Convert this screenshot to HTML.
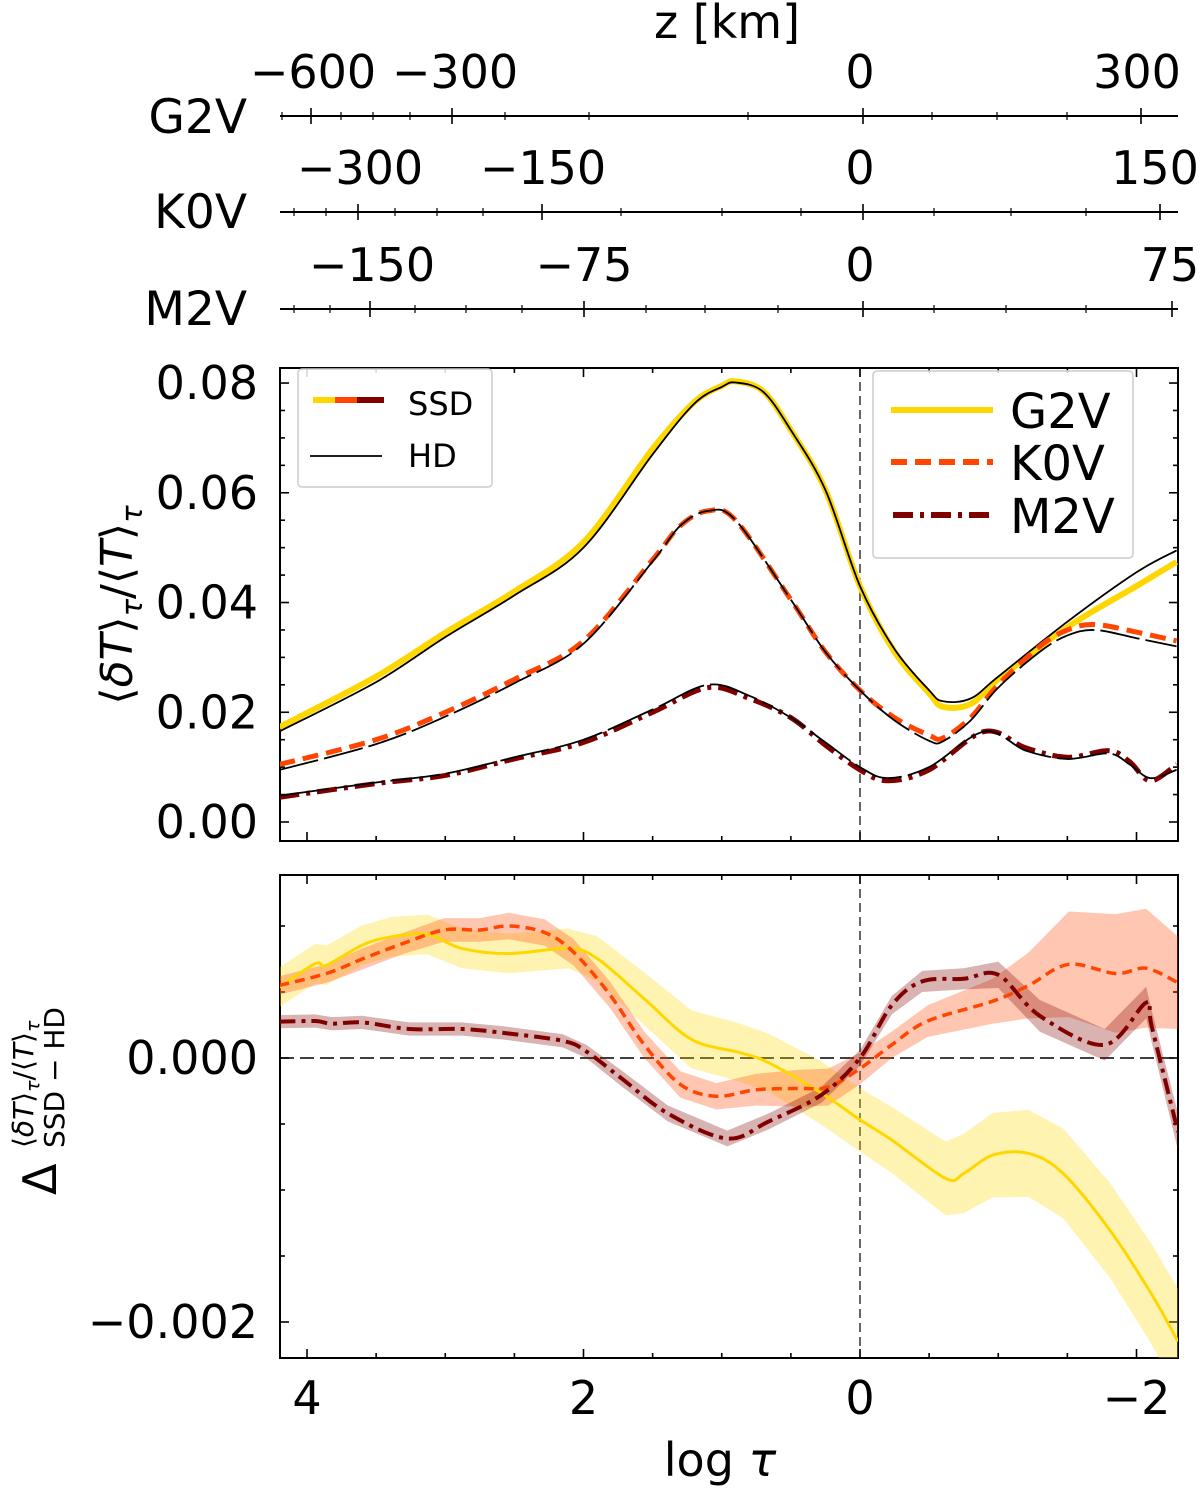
<!DOCTYPE html>
<html><head><meta charset="utf-8"><style>
body{margin:0;background:#fff}
svg text{font-family:"DejaVu Sans","Liberation Sans",sans-serif;fill:#000}
</style></head><body>
<svg id="s" width="1200" height="1487" xmlns="http://www.w3.org/2000/svg"></svg>
<script>
// ---------- data ----------
const g2Top_x=[4.2,3.5,3,2.5,2,1.5,1.2,1,0.9,0.7,0.5,0.25,0,-0.25,-0.5,-0.6,-0.8,-1,-1.5,-2,-2.29];
const g2Top_ssd=[0.0173,0.0265,0.0345,0.042,0.051,0.068,0.0765,0.0795,0.0803,0.0785,0.0714,0.0605,0.043,0.031,0.0235,0.021,0.0215,0.026,0.0355,0.043,0.0474];
const g2Top_hd=[0.0165,0.0255,0.0337,0.0413,0.050,0.067,0.0762,0.0793,0.0801,0.0784,0.0714,0.0605,0.043,0.0315,0.024,0.022,0.0225,0.0265,0.0365,0.0455,0.0495];
const k0Top_x=[4.2,3.5,3,2.5,2,1.5,1.3,1.1,0.9,0.5,0.25,0,-0.25,-0.5,-0.6,-0.8,-1,-1.3,-1.5,-1.7,-2,-2.29];
const k0Top_ssd=[0.0105,0.015,0.020,0.026,0.033,0.0478,0.054,0.0567,0.055,0.0405,0.031,0.024,0.019,0.0158,0.0153,0.019,0.025,0.032,0.035,0.036,0.0346,0.033];
const k0Top_hd=[0.0095,0.0142,0.0192,0.0253,0.0325,0.0475,0.054,0.0567,0.055,0.0405,0.031,0.024,0.0185,0.0148,0.0147,0.0185,0.0245,0.031,0.034,0.035,0.0335,0.032];
const m2Top_x=[4.2,3.5,3,2.5,2,1.5,1.1,0.8,0.5,0.25,0,-0.2,-0.5,-0.9,-1.2,-1.5,-1.8,-1.95,-2.1,-2.29];
const m2Top_ssd=[0.0045,0.007,0.0085,0.0115,0.0145,0.020,0.0245,0.0225,0.019,0.014,0.0095,0.0075,0.0095,0.0165,0.0135,0.0118,0.013,0.011,0.0075,0.0105];
const m2Top_hd=[0.0048,0.0072,0.0088,0.0118,0.015,0.0205,0.025,0.023,0.019,0.0145,0.010,0.008,0.010,0.0165,0.013,0.0115,0.0125,0.0105,0.008,0.0095];

const g2Bot_x=[4.2,3.94,3.86,3.6,3.39,3.13,2.88,2.54,2.11,1.9,1.56,1.22,0.87,0.66,0.28,0,-0.23,-0.62,-0.75,-0.96,-1.22,-1.47,-1.81,-2.11,-2.3];
const g2Bot_v=[0.537,0.715,0.702,0.855,0.918,0.936,0.83,0.791,0.83,0.753,0.448,0.142,0.041,-0.036,-0.265,-0.468,-0.621,-0.913,-0.875,-0.736,-0.723,-0.875,-1.308,-1.791,-2.148];
const g2Bot_e=[0.15,0.15,0.15,0.15,0.15,0.15,0.15,0.15,0.15,0.17,0.2,0.22,0.22,0.22,0.24,0.24,0.25,0.28,0.3,0.32,0.33,0.34,0.36,0.38,0.4];
const k0Bot_x=[4.2,3.86,3.6,3.3,3.01,2.75,2.54,2.28,2.07,1.81,1.56,1.3,1.04,0.75,0.45,0.23,0,-0.23,-0.49,-0.96,-1.22,-1.51,-1.85,-2.07,-2.3];
const k0Bot_v=[0.55,0.64,0.75,0.87,0.97,0.97,1.0,0.95,0.8,0.48,0.1,-0.2,-0.29,-0.24,-0.23,-0.22,-0.08,0.1,0.28,0.43,0.55,0.71,0.64,0.68,0.57];
const k0Bot_e=[0.07,0.07,0.08,0.08,0.09,0.09,0.1,0.1,0.1,0.1,0.1,0.1,0.1,0.12,0.14,0.14,0.12,0.1,0.12,0.17,0.25,0.4,0.45,0.45,0.35];
const m2Bot_x=[4.2,3.94,3.82,3.6,3.26,2.88,2.58,2.15,1.98,1.73,1.39,0.96,0.66,0.28,0,-0.23,-0.45,-0.75,-1.0,-1.3,-1.77,-2.07,-2.11,-2.3];
const m2Bot_v=[0.275,0.28,0.26,0.27,0.22,0.22,0.19,0.13,0.05,-0.15,-0.42,-0.61,-0.48,-0.28,0.0,0.4,0.58,0.6,0.63,0.32,0.1,0.42,0.24,-0.56];
const m2Bot_e=[0.05,0.05,0.05,0.05,0.05,0.05,0.05,0.05,0.05,0.06,0.06,0.06,0.06,0.06,0.06,0.07,0.08,0.08,0.1,0.12,0.12,0.12,0.12,0.14];

const topTicks=[0,0.02,0.04,0.06,0.08];
const topTickLabels=["0.00","0.02","0.04","0.06","0.08"];
const botTicks=[0,-2];
const botTickLabels=["0.000","\u22120.002"];
const xTicks=[4,2,0,-2];
const xTickLabels=["4","2","0","\u22122"];

// ---------- axes ----------
const NS="http://www.w3.org/2000/svg";
const svg=document.getElementById('s');
const XL=280,XR=1178;
const X=t=>860-(t)*138.25;
const YT=v=>822-v*5487;
const YB=v=>1058-v*132;
function el(tag,attrs,parent){const e=document.createElementNS(NS,tag);for(const k in attrs)e.setAttribute(k,attrs[k]);(parent||svg).appendChild(e);return e;}
function txt(x,y,s,size,anchor,name,parent){const t=el('text',{x:x,y:y,'font-size':size,'text-anchor':anchor||'middle'},parent);t.textContent=s;


return t;}
function smooth(xs,ys,fx,fy){const P=xs.map((x,i)=>[fx(x),fy(ys[i])]);let d='M'+P[0][0].toFixed(1)+','+P[0][1].toFixed(1);
 for(let i=0;i<P.length-1;i++){const p0=P[Math.max(i-1,0)],p1=P[i],p2=P[i+1],p3=P[Math.min(i+2,P.length-1)];
  const c1=[p1[0]+(p2[0]-p0[0])/6,p1[1]+(p2[1]-p0[1])/6],c2=[p2[0]-(p3[0]-p1[0])/6,p2[1]-(p3[1]-p1[1])/6];
  d+='C'+c1[0].toFixed(1)+','+c1[1].toFixed(1)+' '+c2[0].toFixed(1)+','+c2[1].toFixed(1)+' '+p2[0].toFixed(1)+','+p2[1].toFixed(1);}
 return d;}

// top z axes
const zAxes=[
 {y:116,name:'G2V',ly:133,major:[311,452,863,1141],minor:[282,341,373,410,505,589,748,932,997,1067],labels:[["\u2212600",313],["\u2212300",455],["0",860],["300",1137]]},
 {y:212,name:'K0V',ly:228,major:[358,542,863,1160],minor:[294,326,395,437,483,621,722,801,934,1011,1086],labels:[["\u2212300",360],["\u2212150",543],["0",860],["150",1155]]},
 {y:309,name:'M2V',ly:325,major:[370,584,863,1172],minor:[294,330,415,466,522,646,705,778,934,1006,1086],labels:[["\u2212150",372],["\u221275",584],["0",860],["75",1170]]}
];
zAxes.forEach(a=>{
 const l=el('line',{x1:XL,x2:XR,y1:a.y,y2:a.y,stroke:'#000','stroke-width':2});
 
 
 a.major.forEach(x=>el('line',{x1:x,x2:x,y1:a.y-8,y2:a.y+8,stroke:'#000','stroke-width':1.6}));
 a.minor.forEach(x=>el('line',{x1:x,x2:x,y1:a.y-4,y2:a.y+4,stroke:'#000','stroke-width':1.2}));
 a.labels.forEach(L=>txt(L[1],a.y-28,L[0],46,'middle','z-tick-label'));
 txt(247,a.ly,a.name,47,'end','star-label-'+a.name.toLowerCase());
});
txt(727,38,'z [km]',46,'middle','z-axis-title');

// panels
function frame(y0,y1,name){const r=el('rect',{x:XL,y:y0,width:XR-XL,height:y1-y0,fill:'none',stroke:'#000','stroke-width':2});


for(let t=4;t>=-2.3;t-=0.5){const x=X(t);const maj=Math.abs(t%2)<1e-6;const L=maj?9:5;
 el('line',{x1:x,x2:x,y1:y0,y2:y0+L,stroke:'#000','stroke-width':1.6});
 el('line',{x1:x,x2:x,y1:y1,y2:y1-L,stroke:'#000','stroke-width':1.6});}
}
const T0=368,T1=841,B0=875,B1=1358;
frame(T0,T1,'top-panel');frame(B0,B1,'bottom-panel');
for(let v=0;v<=0.0825;v+=0.005){const y=YT(v);const maj=Math.round(v*1000)%20===0;const L=maj?9:5;
 el('line',{x1:XL,x2:XL+L,y1:y,y2:y,stroke:'#000','stroke-width':1.6});el('line',{x1:XR,x2:XR-L,y1:y,y2:y,stroke:'#000','stroke-width':1.6});}
topTicks.forEach((v,i)=>txt(258,YT(v)+16,topTickLabels[i],46,'end','top-y-tick-label'));
for(let k=-5;k<=3;k++){const y=YB(k*0.5);if(y<B0||y>B1)continue;const maj=(k%4===0);const L=maj?9:5;
 el('line',{x1:XL,x2:XL+L,y1:y,y2:y,stroke:'#000','stroke-width':1.6});el('line',{x1:XR,x2:XR-L,y1:y,y2:y,stroke:'#000','stroke-width':1.6});}
botTicks.forEach((v,i)=>txt(258,YB(v)+16,botTickLabels[i],46,'end','bottom-y-tick-label'));
xTicks.forEach((t,i)=>txt(X(t),1414,xTickLabels[i],46,'middle','x-tick-label'));
const xt=el('text',{x:720,y:1476,'font-size':46,'text-anchor':'middle'});


xt.innerHTML='log <tspan font-style="italic">\u03c4</tspan>';

// reference lines
el('line',{x1:860,x2:860,y1:T0,y2:T1,stroke:'#000','stroke-width':1.2,'stroke-dasharray':'9,5'});
el('line',{x1:860,x2:860,y1:B0,y2:B1,stroke:'#000','stroke-width':1.2,'stroke-dasharray':'9,5'});
el('line',{x1:XL,x2:XR,y1:YB(0),y2:YB(0),stroke:'#000','stroke-width':1.6,'stroke-dasharray':'14,6'});

const defs=el('defs',{});
const c1=el('clipPath',{id:'ct'},defs);el('rect',{x:XL,y:T0,width:XR-XL,height:T1-T0},c1);
const c2=el('clipPath',{id:'cb'},defs);el('rect',{x:XL,y:B0,width:XR-XL,height:B1-B0},c2);
const gT=el('g',{'clip-path':'url(#ct)'});const gB=el('g',{'clip-path':'url(#cb)'});

const G='#FFD700',K='#FF4500',M='#800000';
const DK='16,8',DM='20,7,4,7';
function line(g,xs,ys,fy,col,w,dash,name){const p=el('path',{d:smooth(xs,ys,X,fy),fill:'none',stroke:col,'stroke-width':w,'stroke-linejoin':'round'},g);
 if(dash)p.setAttribute('stroke-dasharray',dash);
 
 }
line(gT,g2Top_x,g2Top_ssd,YT,G,6,null,'g2v-ssd-line');
line(gT,g2Top_x,g2Top_hd,YT,'#000',1.8,null,'g2v-hd-line');
line(gT,k0Top_x,k0Top_ssd,YT,K,5,DK,'k0v-ssd-line');
line(gT,k0Top_x,k0Top_hd,YT,'#000',1.8,'40,6','k0v-hd-line');
line(gT,m2Top_x,m2Top_ssd,YT,M,5,DM,'m2v-ssd-line');
line(gT,m2Top_x,m2Top_hd,YT,'#000',1.8,'50,6','m2v-hd-line');

function band(g,xs,vs,es,col,name){const up=xs.map((x,i)=>X(x).toFixed(1)+','+YB(vs[i]+es[i]).toFixed(1));
 const dn=xs.map((x,i)=>X(x).toFixed(1)+','+YB(vs[i]-es[i]).toFixed(1)).reverse();
 const p=el('polygon',{points:up.concat(dn).join(' '),fill:col,'fill-opacity':0.3,stroke:'none'},g);
 
 }
band(gB,g2Bot_x,g2Bot_v,g2Bot_e,G,'g2v-band');
band(gB,k0Bot_x,k0Bot_v,k0Bot_e,K,'k0v-band');
band(gB,m2Bot_x,m2Bot_v,m2Bot_e,M,'m2v-band');
line(gB,g2Bot_x,g2Bot_v,YB,G,3,null,'g2v-diff-line');
line(gB,k0Bot_x,k0Bot_v,YB,K,3.5,'10,6','k0v-diff-line');
line(gB,m2Bot_x,m2Bot_v,YB,M,4,'16,6,4,6','m2v-diff-line');

// legends
const lg1=el('rect',{x:298,y:369,width:194,height:118,rx:4,fill:'#fff','fill-opacity':0.85,stroke:'#ccc','stroke-width':1.5});


el('line',{x1:313,x2:335,y1:400,y2:400,stroke:G,'stroke-width':6});
el('line',{x1:335,x2:357,y1:400,y2:400,stroke:K,'stroke-width':6});
el('line',{x1:357,x2:384,y1:400,y2:400,stroke:M,'stroke-width':6});
el('line',{x1:310,x2:382,y1:456,y2:456,stroke:'#000','stroke-width':1.8});
txt(408,415,'SSD',32,'start','legend-entry-ssd');
txt(408,467,'HD',32,'start','legend-entry-hd');
const lg2=el('rect',{x:873,y:371,width:260,height:187,rx:4,fill:'#fff','fill-opacity':0.85,stroke:'#ccc','stroke-width':1.5});


el('line',{x1:891,x2:993,y1:410,y2:410,stroke:G,'stroke-width':6});
el('line',{x1:891,x2:993,y1:462,y2:462,stroke:K,'stroke-width':6,'stroke-dasharray':DK});
el('line',{x1:893,x2:993,y1:515,y2:515,stroke:M,'stroke-width':6,'stroke-dasharray':DM});
txt(1010,428,'G2V',48,'start','legend-entry-g2v');
txt(1010,480,'K0V',48,'start','legend-entry-k0v');
txt(1010,533,'M2V',48,'start','legend-entry-m2v');

// y axis titles
const yt=el('text',{transform:'translate(132,605) rotate(-90)','text-anchor':'middle','font-size':44});


yt.innerHTML='\u27e8<tspan font-style="italic">\u03b4T</tspan>\u27e9<tspan font-size="29" dy="10" font-style="italic">\u03c4</tspan><tspan dy="-10">/\u27e8</tspan><tspan font-style="italic">T</tspan>\u27e9<tspan font-size="29" dy="10" font-style="italic">\u03c4</tspan>';
const yg=el('g',{transform:'translate(56,1110) rotate(-90)'});


txt(-85,0,'\u0394',46,'start','delta-symbol',yg);
const sup=el('text',{x:-38,y:-23,'font-size':28,'text-anchor':'start'},yg);


sup.innerHTML='\u27e8<tspan font-style="italic">\u03b4T</tspan>\u27e9<tspan font-size="19" dy="6" font-style="italic">\u03c4</tspan><tspan dy="-6">/\u27e8</tspan><tspan font-style="italic">T</tspan>\u27e9<tspan font-size="19" dy="6" font-style="italic">\u03c4</tspan>';
txt(-38,8,'SSD \u2212 HD',28,'start','delta-subscript',yg);
</script>
</body></html>
